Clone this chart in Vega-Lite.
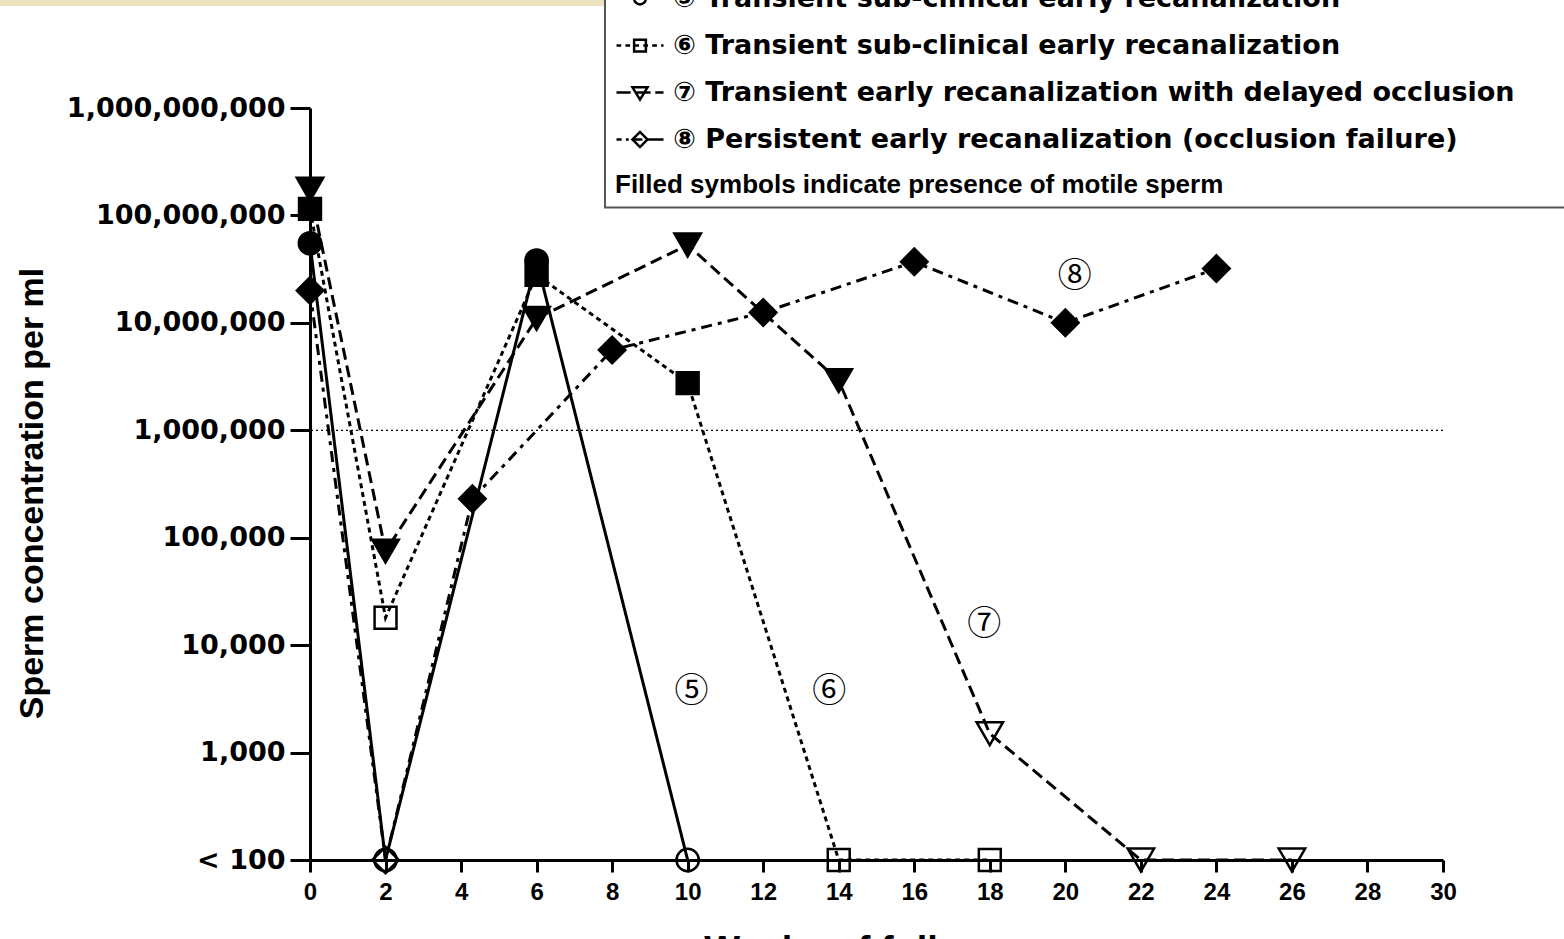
{
  "$schema": "https://vega.github.io/schema/vega-lite/v6.json",
  "autosize": {"type": "none"},
  "padding": {"left": 310, "top": 108, "right": 121, "bottom": 79},
  "width": 1133,
  "height": 752,
  "background": "white",
  "config": {"view": {"stroke": null}, "font": "Liberation Sans", "legend": {"strokeWidth": 2}},
  "datasets": {
    "obs": [
      {"series": "5", "week": 0, "conc": 55000000, "motile": "yes"},
      {"series": "5", "week": 2, "conc": 100, "motile": "no"},
      {"series": "5", "week": 6, "conc": 38000000, "motile": "yes"},
      {"series": "5", "week": 10, "conc": 100, "motile": "no"},
      {"series": "6", "week": 0, "conc": 115000000, "motile": "yes"},
      {"series": "6", "week": 2, "conc": 18000, "motile": "no"},
      {"series": "6", "week": 6, "conc": 28000000, "motile": "yes"},
      {"series": "6", "week": 10, "conc": 2750000, "motile": "yes"},
      {"series": "6", "week": 14, "conc": 100, "motile": "no"},
      {"series": "6", "week": 18, "conc": 100, "motile": "no"},
      {"series": "7", "week": 0, "conc": 175000000, "motile": "yes"},
      {"series": "7", "week": 2, "conc": 75000, "motile": "yes"},
      {"series": "7", "week": 6, "conc": 11000000, "motile": "yes"},
      {"series": "7", "week": 10, "conc": 53000000, "motile": "yes"},
      {"series": "7", "week": 14, "conc": 2900000, "motile": "yes"},
      {"series": "7", "week": 18, "conc": 1500, "motile": "no"},
      {"series": "7", "week": 22, "conc": 100, "motile": "no"},
      {"series": "7", "week": 26, "conc": 100, "motile": "no"},
      {"series": "8", "week": 0, "conc": 20000000, "motile": "yes"},
      {"series": "8", "week": 2, "conc": 100, "motile": "no"},
      {"series": "8", "week": 4.3, "conc": 230000, "motile": "yes"},
      {"series": "8", "week": 8, "conc": 5600000, "motile": "yes"},
      {"series": "8", "week": 12, "conc": 12500000, "motile": "yes"},
      {"series": "8", "week": 16, "conc": 37000000, "motile": "yes"},
      {"series": "8", "week": 20, "conc": 10000000, "motile": "yes"},
      {"series": "8", "week": 24, "conc": 32000000, "motile": "yes"}
    ],
    "notes": [
      {"label": "⑤", "week": 10.1, "conc": 3700},
      {"label": "⑥", "week": 13.75, "conc": 3700},
      {"label": "⑦", "week": 17.85, "conc": 15500},
      {"label": "⑧", "week": 20.25, "conc": 27000000}
    ]
  },
  "layer": [
    {
      "data": {"values": [{}]},
      "mark": {"type": "rect", "color": "#EDE2BE", "clip": false},
      "encoding": {
        "x": {"datum": -10, "type": "quantitative", "scale": {"domain": [0, 30], "nice": false}},
        "x2": {"datum": 40},
        "y": {"datum": 30000000000, "type": "quantitative", "scale": {"type": "log", "domain": [100, 1000000000]}},
        "y2": {"datum": 8900000000}
      }
    },
    {
      "data": {"values": [{}]},
      "mark": {"type": "rule", "stroke": "black", "strokeWidth": 1.2, "strokeDash": [2, 3]},
      "encoding": {
        "y": {"datum": 1000000, "type": "quantitative", "scale": {"type": "log", "domain": [100, 1000000000]}}
      }
    },
    {
      "data": {"name": "obs"},
      "mark": {"type": "line", "stroke": "black", "strokeWidth": 3, "strokeCap": "butt"},
      "encoding": {
        "x": {
          "field": "week", "type": "quantitative",
          "scale": {"domain": [0, 30], "nice": false},
          "axis": {
            "values": [0, 2, 4, 6, 8, 10, 12, 14, 16, 18, 20, 22, 24, 26, 28, 30],
            "grid": false,
            "domainColor": "black", "domainWidth": 3,
            "tickColor": "black", "tickWidth": 3, "tickSize": 12,
            "labelFont": "Liberation Sans", "labelFontWeight": "bold", "labelFontSize": 24,
            "labelColor": "black", "labelPadding": 8, "labelFlush": false, "labelOverlap": false,
            "title": "Weeks of follow-up",
            "titleFont": "Liberation Sans", "titleFontSize": 38, "titleFontWeight": "bold",
            "titleColor": "black", "titleX": 566.5, "titleY": 102, "titleBaseline": "alphabetic"
          }
        },
        "y": {
          "field": "conc", "type": "quantitative",
          "scale": {"type": "log", "domain": [100, 1000000000]},
          "axis": {
            "values": [100, 1000, 10000, 100000, 1000000, 10000000, 100000000, 1000000000],
            "grid": false,
            "domainColor": "black", "domainWidth": 3,
            "tickColor": "black", "tickWidth": 3, "tickSize": 20,
            "labelFont": "DejaVu Sans", "labelFontWeight": "bold", "labelFontSize": 27,
            "labelColor": "black", "labelPadding": 5, "labelFlush": false, "labelOverlap": false,
            "labelLimit": 0,
            "labelExpr": "datum.value == 100 ? '< 100' : format(datum.value, ',')",
            "title": "Sperm concentration per ml",
            "titleFont": "Liberation Sans", "titleFontSize": 34, "titleFontWeight": "bold",
            "titleColor": "black", "titleAngle": -90, "titleX": -278, "titleY": 385,
            "titleAlign": "center", "titleBaseline": "middle"
          }
        },
        "detail": {"field": "series", "type": "nominal"},
        "strokeDash": {
          "field": "series", "type": "nominal",
          "scale": {"domain": ["5", "6", "7", "8"], "range": [[1, 0], [5, 4], [12, 6], [11, 6, 4, 6]]},
          "legend": null
        }
      }
    },
    {
      "data": {"name": "obs"},
      "mark": {"type": "point", "filled": true, "stroke": "black", "strokeWidth": 2.5, "opacity": 1},
      "encoding": {
        "x": {"field": "week", "type": "quantitative", "scale": {"domain": [0, 30], "nice": false}},
        "y": {"field": "conc", "type": "quantitative", "scale": {"type": "log", "domain": [100, 1000000000]}},
        "shape": {
          "field": "series", "type": "nominal",
          "scale": {"domain": ["5", "6", "7", "8"], "range": ["circle", "square", "triangle-down", "diamond"]},
          "legend": null
        },
        "size": {
          "field": "series", "type": "nominal",
          "scale": {"type": "ordinal", "domain": ["5", "6", "7", "8"], "range": [500, 480, 700, 700]},
          "legend": null
        },
        "fill": {
          "field": "motile", "type": "nominal",
          "scale": {"domain": ["yes", "no"], "range": ["black", "transparent"]},
          "legend": null
        }
      }
    },
    {
      "data": {"name": "notes"},
      "mark": {"type": "text", "font": "Noto Sans CJK JP", "fontSize": 34, "color": "black", "align": "center", "baseline": "middle"},
      "encoding": {
        "x": {"field": "week", "type": "quantitative", "scale": {"domain": [0, 30], "nice": false}},
        "y": {"field": "conc", "type": "quantitative", "scale": {"type": "log", "domain": [100, 1000000000]}},
        "text": {"field": "label"}
      }
    },
    {
      "data": {"name": "obs"},
      "transform": [{"filter": "datum.week < 0"}],
      "mark": {"type": "point", "filled": false, "stroke": "black", "strokeWidth": 2.5, "size": 2209},
      "encoding": {
        "x": {"field": "week", "type": "quantitative", "scale": {"domain": [0, 30], "nice": false}},
        "y": {"field": "conc", "type": "quantitative", "scale": {"type": "log", "domain": [100, 1000000000]}},
        "shape": {
          "field": "series", "type": "nominal",
          "scale": {
            "domain": ["5", "6", "7", "8"],
            "range": [
              "M-1,0H1M-0.25,0A0.25,0.25,0,1,1,0.25,0A0.25,0.25,0,1,1,-0.25,0",
              "M-1,0H-0.8M-0.62,0H-0.42M-0.24,0H-0.04M0.14,0H0.34M0.52,0H0.72M0.9,0H1M-0.25,-0.25H0.25V0.25H-0.25Z",
              "M-1,0H-0.4M-0.15,0H0.45M0.65,0H1M-0.32,-0.22H0.32L0,0.3Z",
              "M-1,0H-0.78M-0.6,0H-0.48M-0.3,0H0.1M0.3,0H1M-0.32,0L0,-0.32L0.32,0L0,0.32Z"
            ]
          },
          "legend": {
            "orient": "none",
            "legendX": 295,
            "legendY": -144.5,
            "direction": "vertical",
            "padding": 10,
            "rowPadding": 9,
            "fillColor": "white",
            "strokeColor": "#555555",
            "cornerRadius": 0,
            "symbolSize": 2209,
            "symbolStrokeWidth": 2.5,
            "symbolStrokeColor": "black",
            "symbolFillColor": "transparent",
            "symbolOpacity": 1,
            "labelFont": "DejaVu Sans",
            "labelFontWeight": "bold",
            "labelFontSize": 27,
            "labelColor": "black",
            "labelOffset": 8,
            "labelLimit": 0,
            "labelExpr": "datum.value == '5' ? '⑤ Transient sub-clinical early recanalization' : datum.value == '6' ? '⑥ Transient sub-clinical early recanalization' : datum.value == '7' ? '⑦ Transient early recanalization with delayed occlusion\u2800\u2800\u2800\u2800\u2800\u2800' : '⑧ Persistent early recanalization (occlusion failure)'",
            "title": "Filled symbols indicate presence of motile sperm",
            "titleOrient": "bottom",
            "titleAnchor": "start",
            "titleFont": "Liberation Sans",
            "titleFontWeight": "bold",
            "titleFontSize": 26,
            "titleColor": "black",
            "titlePadding": 19,
            "titleLimit": 0
          }
        }
      }
    }
  ],
  "resolve": {"scale": {"shape": "independent", "size": "independent"}, "legend": {"shape": "independent"}}
}
